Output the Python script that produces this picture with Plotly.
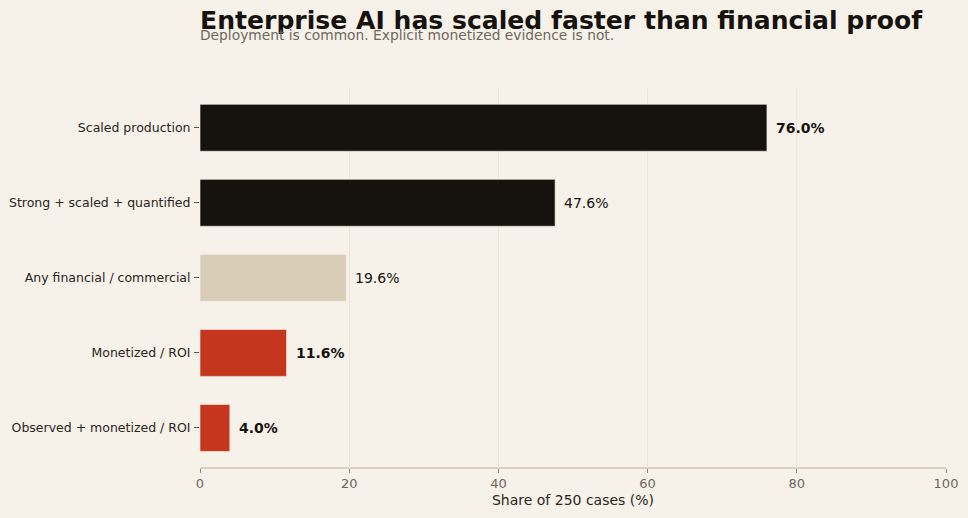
import plotly.graph_objects as go

# Data
categories = [
    "Scaled production",
    "Strong + scaled + quantified",
    "Any financial / commercial",
    "Monetized / ROI",
    "Observed + monetized / ROI",
]
shares = [76.0, 47.6, 19.6, 11.6, 4.0]
bold_label = [True, False, False, True, True]

bar_colors = ["#16130f", "#16130f", "#d9cdb8", "#c4361d", "#c4361d"]

labels = [
    f"<b>{v:.1f}%</b>" if b else f"{v:.1f}%" for v, b in zip(shares, bold_label)
]

fig = go.Figure()

fig.add_trace(go.Bar(
    y=categories,
    x=shares,
    orientation="h",
    width=0.625,
    marker=dict(color=bar_colors, line=dict(color="rgba(246,241,233,0.6)", width=1)),
    textposition="none",
    showlegend=False,
))

# value labels placed just right of each bar end
for cat, val, lab in zip(categories, shares, labels):
    fig.add_annotation(
        x=val, y=cat, text=lab,
        xanchor="left", xshift=7,
        showarrow=False,
        font=dict(size=14, color="#16130f"),
    )

fig.update_layout(
    width=968,
    height=518,
    paper_bgcolor="#f6f1e9",
    plot_bgcolor="#f6f1e9",
    font=dict(family="DejaVu Sans", color="#2a2620"),
    margin=dict(l=200, r=22, t=88, b=51),
    title=dict(
        text="<b>Enterprise AI has scaled faster than financial proof</b>",
        x=0, xref="paper", xanchor="left",
        y=0.978, yref="container", yanchor="top",
        font=dict(size=25.1, color="#16130f"),
    ),
)

fig.add_annotation(
    text="Deployment is common. Explicit monetized evidence is not.",
    x=0, xref="paper", xanchor="left", xshift=-2,
    y=1, yref="paper", yshift=53, yanchor="middle",
    showarrow=False,
    font=dict(size=13.8, color="#6e685c"),
)

fig.update_xaxes(
    range=[0, 100],
    tickvals=[0, 20, 40, 60, 80, 100],
    automargin=False,
    showgrid=True,
    gridcolor="#ede5d3",
    gridwidth=1,
    zeroline=False,
    showline=True,
    linecolor="#ddd3bd",
    linewidth=1.5,
    ticks="outside",
    ticklen=4,
    tickcolor="#8a8475",
    tickfont=dict(size=13, color="#6e685c"),
    title=dict(text="Share of 250 cases (%)", font=dict(size=14, color="#2a2620"), standoff=5),
)

fig.update_yaxes(
    range=[4.52, -0.53],
    automargin=False,
    showgrid=False,
    showline=False,
    ticks="outside",
    ticklen=5,
    tickcolor="#5a554b",
    ticklabelstandoff=1,
    tickfont=dict(size=12.5, color="#2a2620"),
)

fig.write_html("out.html", config={"displayModeBar": False})

# drop the default page margin so the figure fills the window
with open("out.html") as f:
    page = f.read()
page = page.replace("<head>", "<head><style>body{margin:0;}</style>", 1)
with open("out.html", "w") as f:
    f.write(page)
